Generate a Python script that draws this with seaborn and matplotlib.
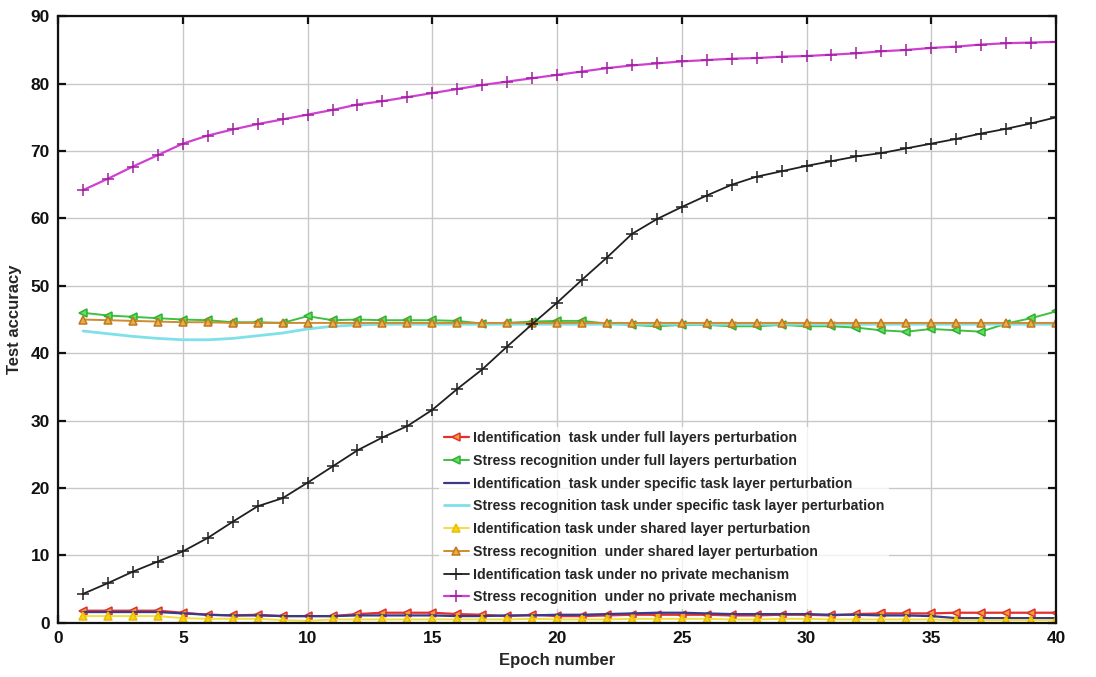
import numpy as np
import pandas as pd
import matplotlib
matplotlib.use("Agg")
import matplotlib.pyplot as plt
import seaborn as sns

epochs = list(range(1, 41))

id_full = [1.8, 1.8, 1.8, 1.8, 1.5, 1.2, 1.1, 1.2, 1.0, 1.0,
           1.0, 1.3, 1.5, 1.5, 1.5, 1.3, 1.2, 1.0, 1.2, 1.0,
           1.0, 1.1, 1.2, 1.2, 1.2, 1.2, 1.1, 1.1, 1.2, 1.2,
           1.1, 1.3, 1.4, 1.4, 1.4, 1.5, 1.5, 1.5, 1.5, 1.5]
stress_full = [46.0, 45.6, 45.4, 45.2, 45.0, 44.9, 44.6, 44.6, 44.5, 45.5,
               44.9, 45.0, 44.9, 44.9, 44.9, 44.8, 44.4, 44.5, 44.7, 44.8,
               44.8, 44.4, 44.2, 44.0, 44.2, 44.2, 44.0, 44.0, 44.2, 44.0,
               44.0, 43.8, 43.4, 43.2, 43.6, 43.4, 43.2, 44.4, 45.2, 46.2]
id_specific = [1.6, 1.6, 1.6, 1.6, 1.4, 1.2, 1.1, 1.1, 1.0, 1.0,
               1.0, 1.1, 1.1, 1.1, 1.1, 1.0, 1.0, 1.1, 1.1, 1.2,
               1.2, 1.3, 1.4, 1.5, 1.5, 1.4, 1.3, 1.3, 1.3, 1.3,
               1.2, 1.2, 1.1, 1.1, 1.0, 0.7, 0.7, 0.7, 0.7, 0.7]
stress_specific = [43.3, 42.9, 42.5, 42.2, 42.0, 42.0, 42.2, 42.6, 43.0, 43.6,
                   44.0, 44.2, 44.3, 44.3, 44.3, 44.3, 44.3, 44.3, 44.3, 44.3,
                   44.3, 44.3, 44.3, 44.3, 44.3, 44.3, 44.3, 44.3, 44.3, 44.3,
                   44.3, 44.3, 44.3, 44.3, 44.3, 44.3, 44.3, 44.3, 44.3, 44.3]
id_shared = [1.0, 1.0, 1.0, 1.0, 0.7, 0.6, 0.6, 0.6, 0.4, 0.3,
             0.5, 0.5, 0.5, 0.5, 0.5, 0.5, 0.5, 0.5, 0.6, 0.5,
             0.5, 0.5, 0.6, 0.6, 0.6, 0.6, 0.5, 0.5, 0.6, 0.6,
             0.5, 0.5, 0.5, 0.5, 0.5, 0.4, 0.4, 0.4, 0.4, 0.4]
stress_shared = [45.0, 44.9, 44.8, 44.7, 44.6, 44.6, 44.5, 44.5, 44.5, 44.5,
                 44.5, 44.5, 44.5, 44.5, 44.5, 44.5, 44.5, 44.5, 44.5, 44.5,
                 44.5, 44.5, 44.5, 44.5, 44.5, 44.5, 44.5, 44.5, 44.5, 44.5,
                 44.5, 44.5, 44.5, 44.5, 44.5, 44.5, 44.5, 44.5, 44.5, 44.5]
id_none = [4.3, 5.9, 7.6, 9.1, 10.6, 12.6, 15.0, 17.3, 18.5, 20.8,
           23.2, 25.6, 27.5, 29.2, 31.6, 34.7, 37.6, 41.0, 44.3, 47.5,
           50.9, 54.2, 57.7, 59.9, 61.7, 63.4, 65.0, 66.2, 67.0, 67.8,
           68.5, 69.2, 69.7, 70.4, 71.1, 71.8, 72.6, 73.3, 74.1, 75.0]
stress_none = [64.2, 65.9, 67.7, 69.4, 71.1, 72.3, 73.2, 74.0, 74.7, 75.4,
               76.1, 76.9, 77.4, 78.0, 78.6, 79.2, 79.8, 80.3, 80.8, 81.3,
               81.8, 82.3, 82.7, 83.0, 83.3, 83.5, 83.7, 83.8, 84.0, 84.1,
               84.3, 84.5, 84.8, 85.0, 85.3, 85.5, 85.8, 86.0, 86.1, 86.2]

labels = [
    "Identification  task under full layers perturbation",
    "Stress recognition under full layers perturbation",
    "Identification  task under specific task layer perturbation",
    "Stress recognition task under specific task layer perturbation",
    "Identification task under shared layer perturbation",
    "Stress recognition  under shared layer perturbation",
    "Identification task under no private mechanism",
    "Stress recognition  under no private mechanism",
]
series = [id_full, stress_full, id_specific, stress_specific,
          id_shared, stress_shared, id_none, stress_none]

# line colour, marker, marker face, marker edge, line width
styles = [
    ("#e03030", "<", "#f0a030", "#e03030", 1.6),
    ("#40c040", "<", "#60e060", "#30b030", 1.4),
    ("#3a3a8a", None, None, None, 1.6),
    ("#80e0e8", None, None, None, 2.0),
    ("#f0e040", "^", "#f8d020", "#e8c000", 1.4),
    ("#d08a30", "^", "#e8b040", "#c07820", 1.4),
    ("#202020", "+", "#202020", "#202020", 1.3),
    ("#d040d0", "+", "#a020a0", "#a020a0", 1.6),
]

df = pd.DataFrame({"epoch": epochs})
for lab, vals in zip(labels, series):
    df[lab] = vals

sns.set_theme(style="whitegrid")
plt.rcParams["font.family"] = ["Liberation Sans", "DejaVu Sans"]

fig = plt.figure(figsize=(10.96, 6.77), dpi=100)
ax = fig.add_axes([0.053, 0.080, 0.9105, 0.896])

for lab, (col, mk, mfc, mec, lw) in zip(labels, styles):
    kw = dict(color=col, linewidth=lw, label=lab)
    if mk is not None:
        kw.update(marker=mk, markersize=5.5 if mk != "+" else 8,
                  markerfacecolor=mfc, markeredgecolor=mec,
                  markeredgewidth=1.1)
    sns.lineplot(data=df, x="epoch", y=lab, ax=ax, **kw)

ax.set_xlim(0, 40)
ax.set_ylim(0, 90)
ax.set_xticks(range(0, 41, 5))
ax.set_yticks(range(0, 91, 10))
ax.grid(True, color="#c8c8c8", linewidth=1.0)
ax.set_facecolor("white")
for sp in ax.spines.values():
    sp.set_visible(True)
    sp.set_color("#111111")
    sp.set_linewidth(1.6)
ax.tick_params(axis="both", which="both", direction="in", length=6, width=1.6,
               top=True, right=True, left=True, bottom=True,
               labelsize=12.5, colors="#111111", pad=6)
for t in ax.get_xticklabels() + ax.get_yticklabels():
    t.set_fontweight("bold")

ax.set_xlabel("Epoch number", fontsize=12, fontweight="bold", labelpad=5)
ax.set_ylabel("Test accuracy", fontsize=12, fontweight="bold", labelpad=6)

leg = ax.legend(loc="upper left", bbox_to_anchor=(0.375, 0.335),
                frameon=True, framealpha=0.75, edgecolor="none",
                facecolor="white", fontsize=10.2, handlelength=1.8,
                handletextpad=0.3, labelspacing=0.62, borderpad=0.3)
for t in leg.get_texts():
    t.set_fontweight("bold")

fig.savefig("out.png", dpi=100, facecolor="white")
